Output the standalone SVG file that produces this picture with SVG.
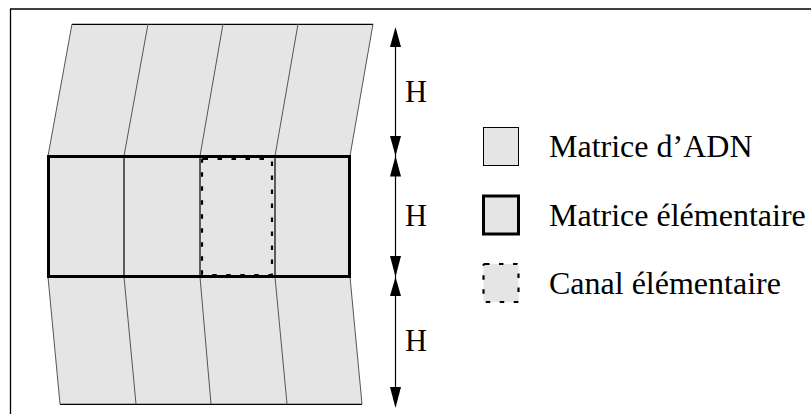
<svg xmlns="http://www.w3.org/2000/svg" width="811" height="414" viewBox="0 0 811 414">
<style>
.cell{fill:#e5e5e5;stroke:none}
.slant{stroke:#555;stroke-width:1;fill:none}
.edge{stroke:#000;stroke-width:1.2;fill:none}
.thick{fill:none;stroke:#000;stroke-width:3}
.dash{fill:none;stroke:#000;stroke-width:2.2;stroke-dasharray:4.5 9.5}
.txt{font-family:"Liberation Serif","Times New Roman",serif;fill:#000}
.ah{fill:#000}
.ln{stroke:#000;stroke-width:1.2}
</style>
<g id="frame">
<line x1="10" y1="9" x2="811" y2="9" stroke="#000" stroke-width="1.3"/>
<line x1="10.5" y1="9" x2="10.5" y2="414" stroke="#000" stroke-width="1.3"/>
</g>
<g id="top-block">
<polygon class="cell" points="72,24 373,24 350,156 48,156"/>
<line class="edge" x1="72" y1="24.3" x2="373" y2="24.3"/>
<line class="slant" x1="72" y1="24" x2="48" y2="156"/>
<line class="slant" x1="148" y1="24" x2="124" y2="156"/>
<line class="slant" x1="223" y1="24" x2="200" y2="156"/>
<line class="slant" x1="298" y1="24" x2="275" y2="156"/>
<line class="slant" x1="373" y1="24" x2="350" y2="156"/>
</g>
<g id="bottom-block">
<polygon class="cell" points="48,277 350,277 362,404 60,404"/>
<line class="edge" x1="60" y1="404.3" x2="362" y2="404.3"/>
<line class="slant" x1="48" y1="277" x2="60" y2="404"/>
<line class="slant" x1="124" y1="277" x2="136" y2="404"/>
<line class="slant" x1="200" y1="277" x2="211" y2="404"/>
<line class="slant" x1="275" y1="277" x2="287" y2="404"/>
<line class="slant" x1="350" y1="277" x2="362" y2="404"/>
</g>
<g id="matrice-elementaire">
<rect class="cell" x="48" y="156" width="302" height="121"/>
<line class="edge" x1="124" y1="156" x2="124" y2="277"/>
<line class="edge" x1="200" y1="156" x2="200" y2="277"/>
<line class="edge" x1="275" y1="156" x2="275" y2="277"/>
<rect class="thick" x="48.5" y="156.5" width="301" height="120"/>
</g>
<g id="canal-elementaire">
<rect class="dash" x="202" y="159" width="70" height="116" rx="1.5"/>
</g>
<g id="connectors">
<line class="ln" x1="395.5" y1="40" x2="395.5" y2="396"/>
<polygon class="ah" points="395.5,27 390,47 401,47"/>
<polygon class="ah" points="395.5,156 390,136 401,136"/>
<polygon class="ah" points="395.5,156 390,176.5 401,176.5"/>
<polygon class="ah" points="395.5,277 390,256 401,256"/>
<polygon class="ah" points="395.5,277 390,296 401,296"/>
<polygon class="ah" points="395.5,408 390,387 401,387"/>
</g>
<g id="labels-h">
<text class="txt" x="405" y="101.5" font-size="30.5">H</text>
<text class="txt" x="405" y="226" font-size="30.5">H</text>
<text class="txt" x="405" y="351" font-size="30.5">H</text>
</g>
<g id="legend-adn">
<rect x="483.5" y="127.5" width="35" height="38" fill="#e5e5e5" stroke="#000" stroke-width="1"/>
<text class="txt" x="549" y="156.5" font-size="32">Matrice d’ADN</text>
</g>
<g id="legend-matrice">
<rect x="483.5" y="196" width="35" height="38" fill="#e5e5e5" stroke="#000" stroke-width="3"/>
<text class="txt" x="549" y="226" font-size="32">Matrice élémentaire</text>
</g>
<g id="legend-canal">
<rect x="483.5" y="264" width="35" height="38" fill="#e5e5e5" stroke="#000" stroke-width="2.2" stroke-dasharray="4.5 9.5" rx="1.5"/>
<text class="txt" x="549" y="293.5" font-size="32">Canal élémentaire</text>
</g>
</svg>
